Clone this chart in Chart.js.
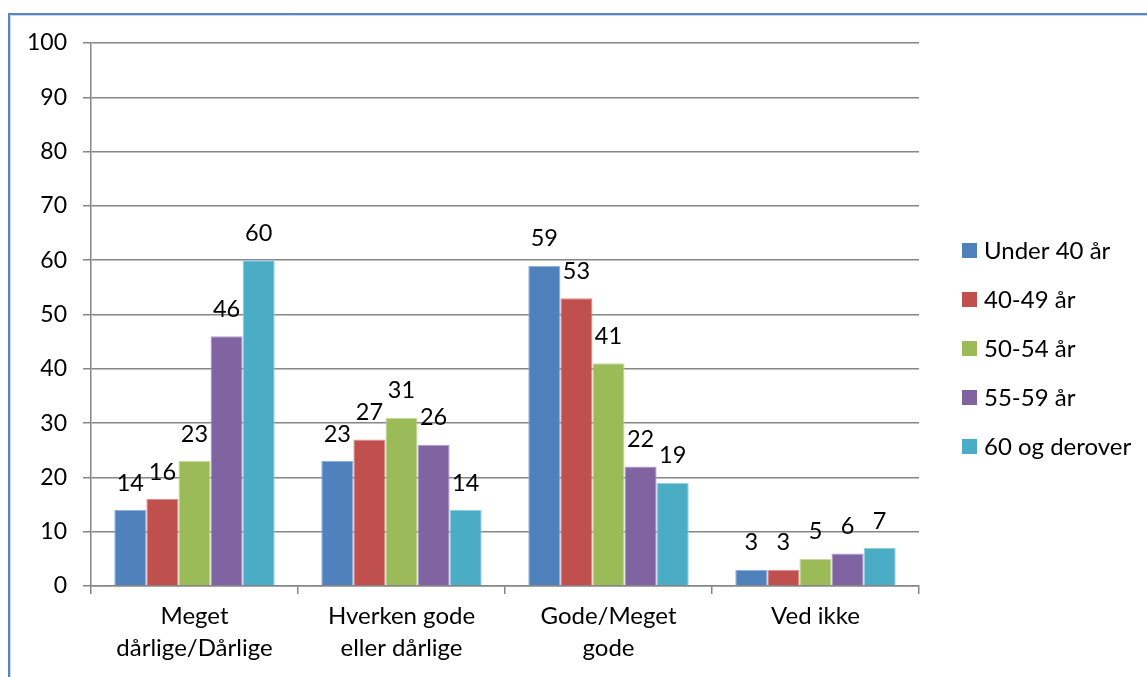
<!DOCTYPE html>
<html><head><meta charset="utf-8">
<script src="https://cdn.jsdelivr.net/npm/chart.js@4/dist/chart.umd.min.js"></script>
<style>html,body{margin:0;padding:0;background:#fff}canvas{display:block}</style>
</head><body>
<canvas id="c" width="1147" height="677"></canvas>
<script>
const categories = [["Meget","dårlige/Dårlige"],["Hverken gode","eller dårlige"],["Gode/Meget","gode"],["Ved ikke"]];
const seriesNames = ["Under 40 år","40-49 år","50-54 år","55-59 år","60 og derover"];
const under40 = [14,23,59,3];
const age40_49 = [16,27,53,3];
const age50_54 = [23,31,41,5];
const age55_59 = [46,26,22,6];
const age60plus = [60,14,19,7];
const yTicks = [0,10,20,30,40,50,60,70,80,90,100];

const colors = ["#4F81BD","#C0504D","#9BBB59","#8064A2","#4BACC6"];
const borders = ["#8FB0DA","#DD8F8D","#C6DC9C","#B29FCB","#8ED2E2"];
const seriesData = [under40, age40_49, age50_54, age55_59, age60plus];
const FONT = "Lato, 'Liberation Sans', sans-serif";

const frame = {
  id:'frame',
  beforeDraw(chart){
    const ctx = chart.ctx;
    ctx.save();
    ctx.fillStyle='#fff';ctx.fillRect(0,0,chart.width,chart.height);
    ctx.strokeStyle='#5B87C1';ctx.lineWidth=2;
    ctx.beginPath();ctx.moveTo(9,677);ctx.lineTo(9,14);ctx.lineTo(1147,14);ctx.stroke();
    ctx.strokeStyle='#C5D6EE';ctx.lineWidth=1;
    ctx.beginPath();ctx.moveTo(10.5,677);ctx.lineTo(10.5,15.5);ctx.lineTo(1147,15.5);ctx.stroke();
    ctx.restore();
  }
};
const labelsPlugin = {
  id:'vals',
  afterDatasetsDraw(chart){
    const ctx = chart.ctx;
    ctx.save();
    ctx.font = "23.5px " + FONT;
    ctx.fillStyle = '#000';
    ctx.textAlign='center';ctx.textBaseline='middle';
    chart.data.datasets.forEach((ds,i)=>{
      chart.getDatasetMeta(i).data.forEach((bar,j)=>{
        ctx.fillText(String(ds.data[j]), bar.x, bar.y-27);
      });
    });
    // legend
    const ly0 = 250, step = 49;
    ctx.textAlign='left';
    ctx.font = "24px " + FONT;
    chart.data.datasets.forEach((ds,i)=>{
      const y = ly0 + i*step;
      ctx.fillStyle = ds.backgroundColor;
      ctx.fillRect(962, y-7, 15, 15);
      ctx.fillStyle='#000';
      ctx.fillText(ds.label, 984, y+1);
    });
    ctx.restore();
  }
};

new Chart(document.getElementById('c'), {
  type:'bar',
  data:{
    labels: categories,
    datasets: seriesNames.map((n,i)=>({
      label:n, data:seriesData[i], backgroundColor:colors[i],
      borderColor:borders[i], borderWidth:1,
      categoryPercentage:0.775, barPercentage:1
    }))
  },
  options:{
    responsive:false, animation:false,
    layout:{padding:{left:0,top:43,right:228,bottom:0}},
    plugins:{legend:{display:false},tooltip:{enabled:false}},
    scales:{
      y:{
        min:0,max:100,
        afterBuildTicks(s){ s.ticks = yTicks.map(v=>({value:v})); },
        afterFit(s){ s.width = 91; },
        border:{color:'#868686',width:1.5},
        grid:{color:'#868686',lineWidth:1.5,tickLength:8},
        ticks:{color:'#000',font:{size:23,family:FONT},padding:16}
      },
      x:{
        afterFit(s){ s.height = 91; },
        border:{color:'#868686',width:1.5},
        grid:{display:true,drawOnChartArea:false,offset:true,color:'#868686',lineWidth:1.5,tickLength:8},
        ticks:{color:'#000',font:{size:24,family:FONT,lineHeight:1.333},padding:6,maxRotation:0,autoSkip:false}
      }
    }
  },
  plugins:[frame,labelsPlugin]
});
</script>
</body></html>
